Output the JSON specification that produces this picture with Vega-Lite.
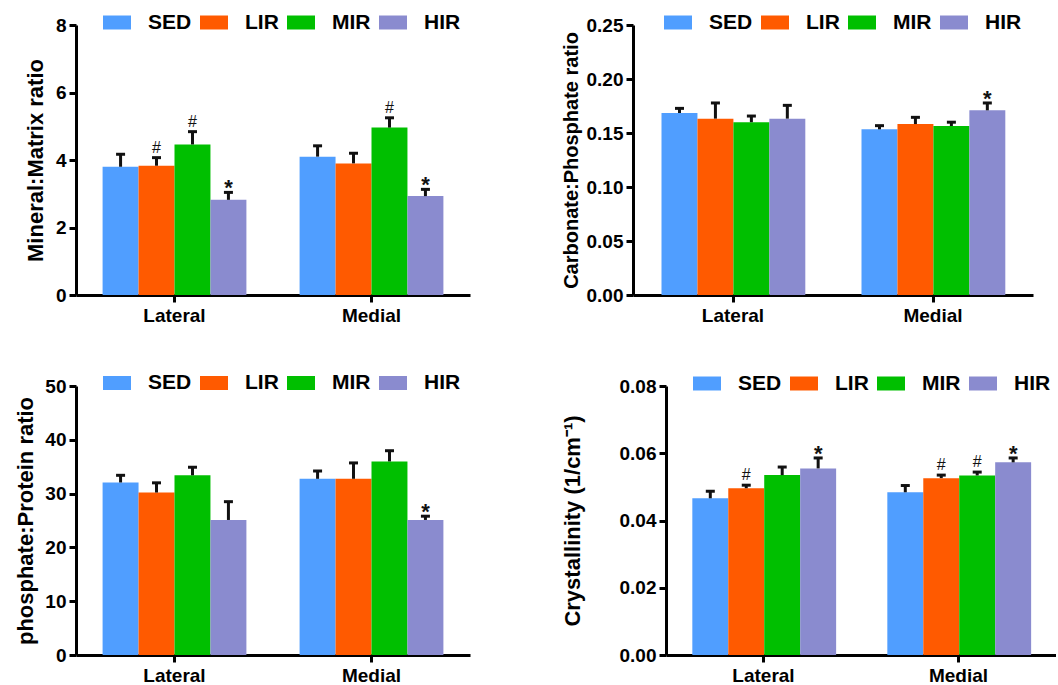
{
  "$schema": "https://vega.github.io/schema/vega-lite/v6.json",
  "padding": {"left": 14, "top": 8, "right": 0, "bottom": 0},
  "background": "#ffffff",
  "datasets": {
    "d": [
      {"panel": "MM", "site": "Lateral", "group": "SED", "mean": 3.80, "upper": 4.17, "sig": ""},
      {"panel": "MM", "site": "Lateral", "group": "LIR", "mean": 3.83, "upper": 4.07, "sig": "#"},
      {"panel": "MM", "site": "Lateral", "group": "MIR", "mean": 4.46, "upper": 4.84, "sig": "#"},
      {"panel": "MM", "site": "Lateral", "group": "HIR", "mean": 2.82, "upper": 3.04, "sig": "*"},
      {"panel": "MM", "site": "Medial", "group": "SED", "mean": 4.10, "upper": 4.42, "sig": ""},
      {"panel": "MM", "site": "Medial", "group": "LIR", "mean": 3.90, "upper": 4.20, "sig": ""},
      {"panel": "MM", "site": "Medial", "group": "MIR", "mean": 4.96, "upper": 5.25, "sig": "#"},
      {"panel": "MM", "site": "Medial", "group": "HIR", "mean": 2.93, "upper": 3.13, "sig": "*"},
      {"panel": "CP", "site": "Lateral", "group": "SED", "mean": 0.1685, "upper": 0.1728, "sig": ""},
      {"panel": "CP", "site": "Lateral", "group": "LIR", "mean": 0.1633, "upper": 0.1778, "sig": ""},
      {"panel": "CP", "site": "Lateral", "group": "MIR", "mean": 0.1600, "upper": 0.1657, "sig": ""},
      {"panel": "CP", "site": "Lateral", "group": "HIR", "mean": 0.1633, "upper": 0.1756, "sig": ""},
      {"panel": "CP", "site": "Medial", "group": "SED", "mean": 0.1534, "upper": 0.1568, "sig": ""},
      {"panel": "CP", "site": "Medial", "group": "LIR", "mean": 0.1583, "upper": 0.1645, "sig": ""},
      {"panel": "CP", "site": "Medial", "group": "MIR", "mean": 0.1565, "upper": 0.1600, "sig": ""},
      {"panel": "CP", "site": "Medial", "group": "HIR", "mean": 0.1710, "upper": 0.1778, "sig": "*"},
      {"panel": "PP", "site": "Lateral", "group": "SED", "mean": 32.07, "upper": 33.4, "sig": ""},
      {"panel": "PP", "site": "Lateral", "group": "LIR", "mean": 30.2, "upper": 32.0, "sig": ""},
      {"panel": "PP", "site": "Lateral", "group": "MIR", "mean": 33.4, "upper": 34.9, "sig": ""},
      {"panel": "PP", "site": "Lateral", "group": "HIR", "mean": 25.1, "upper": 28.5, "sig": ""},
      {"panel": "PP", "site": "Medial", "group": "SED", "mean": 32.75, "upper": 34.2, "sig": ""},
      {"panel": "PP", "site": "Medial", "group": "LIR", "mean": 32.75, "upper": 35.7, "sig": ""},
      {"panel": "PP", "site": "Medial", "group": "MIR", "mean": 35.98, "upper": 37.97, "sig": ""},
      {"panel": "PP", "site": "Medial", "group": "HIR", "mean": 25.1, "upper": 25.8, "sig": "*"},
      {"panel": "CR", "site": "Lateral", "group": "SED", "mean": 0.0466, "upper": 0.0487, "sig": ""},
      {"panel": "CR", "site": "Lateral", "group": "LIR", "mean": 0.0496, "upper": 0.0505, "sig": "#"},
      {"panel": "CR", "site": "Lateral", "group": "MIR", "mean": 0.0535, "upper": 0.0559, "sig": ""},
      {"panel": "CR", "site": "Lateral", "group": "HIR", "mean": 0.0555, "upper": 0.0586, "sig": "*"},
      {"panel": "CR", "site": "Medial", "group": "SED", "mean": 0.0484, "upper": 0.0504, "sig": ""},
      {"panel": "CR", "site": "Medial", "group": "LIR", "mean": 0.0526, "upper": 0.0535, "sig": "#"},
      {"panel": "CR", "site": "Medial", "group": "MIR", "mean": 0.0534, "upper": 0.0544, "sig": "#"},
      {"panel": "CR", "site": "Medial", "group": "HIR", "mean": 0.0573, "upper": 0.0586, "sig": "*"}
    ]
  },
  "data": {"name": "d"},
  "resolve": {"scale": {"color": "independent"}, "legend": {"color": "independent"}},
  "spacing": 44,
  "vconcat": [
    {
      "spacing": 91,
      "resolve": {"scale": {"color": "independent"}, "legend": {"color": "independent"}},
      "hconcat": [
        {
          "width": 394, "height": 270,
          "transform": [{"filter": "datum.panel === 'MM'"}],
          "encoding": {
            "x": {"field": "site", "type": "nominal", "sort": ["Lateral", "Medial"], "scale": {"paddingInner": 0.27, "paddingOuter": 0.135}, "axis": {"title": null, "labelAngle": 0}},
            "xOffset": {"field": "group", "type": "nominal", "sort": ["SED", "LIR", "MIR", "HIR"], "scale": {"paddingInner": 0, "paddingOuter": 0}},
            "y": {"field": "mean", "type": "quantitative", "title": "Mineral:Matrix ratio", "scale": {"domain": [0, 8], "nice": false}, "axis": {"values": [0, 2, 4, 6, 8], "titlePadding": 8, "titleFontSize": 22}}
          },
          "layer": [
            {"mark": {"type": "bar"}, "encoding": {"color": {"field": "group", "type": "nominal", "sort": ["SED", "LIR", "MIR", "HIR"], "scale": {"domain": ["SED", "LIR", "MIR", "HIR"], "range": ["#509EFF", "#FF5A00", "#00BF00", "#8A8BCF"]}, "legend": {"legendX": 27, "legendY": -16.5}}}},
            {"mark": {"type": "rule", "strokeWidth": 3, "color": "#111111"}, "encoding": {"y": {"field": "mean", "type": "quantitative", "title": "Mineral:Matrix ratio"}, "y2": {"field": "upper"}}},
            {"mark": {"type": "tick", "thickness": 3, "size": 9, "color": "#111111", "opacity": 1}, "encoding": {"y": {"field": "upper", "type": "quantitative", "title": "Mineral:Matrix ratio"}}},
            {"transform": [{"filter": "datum.sig === '#'"}], "mark": {"type": "text", "font": "Liberation Sans", "fontSize": 16, "baseline": "alphabetic", "dy": -5, "color": "#111111"}, "encoding": {"y": {"field": "upper", "type": "quantitative", "title": "Mineral:Matrix ratio"}, "text": {"field": "sig"}}},
            {"transform": [{"filter": "datum.sig === '*'"}], "mark": {"type": "text", "font": "Liberation Sans", "fontSize": 22, "fontWeight": "bold", "baseline": "alphabetic", "dy": 3, "color": "#111111"}, "encoding": {"y": {"field": "upper", "type": "quantitative", "title": "Mineral:Matrix ratio"}, "text": {"field": "sig"}}}
          ]
        },
        {
          "width": 400, "height": 270,
          "transform": [{"filter": "datum.panel === 'CP'"}],
          "encoding": {
            "x": {"field": "site", "type": "nominal", "sort": ["Lateral", "Medial"], "scale": {"paddingInner": 0.285, "paddingOuter": 0.1425}, "axis": {"title": null, "labelAngle": 0}},
            "xOffset": {"field": "group", "type": "nominal", "sort": ["SED", "LIR", "MIR", "HIR"], "scale": {"paddingInner": 0, "paddingOuter": 0}},
            "y": {"field": "mean", "type": "quantitative", "title": "Carbonate:Phosphate ratio", "scale": {"domain": [0, 0.25], "nice": false}, "axis": {"values": [0, 0.05, 0.1, 0.15, 0.2, 0.25], "format": ".2f", "titlePadding": 5}}
          },
          "layer": [
            {"mark": {"type": "bar"}, "encoding": {"color": {"field": "group", "type": "nominal", "sort": ["SED", "LIR", "MIR", "HIR"], "scale": {"domain": ["SED", "LIR", "MIR", "HIR"], "range": ["#509EFF", "#FF5A00", "#00BF00", "#8A8BCF"]}, "legend": {"legendX": 31, "legendY": -16.5}}}},
            {"mark": {"type": "rule", "strokeWidth": 3, "color": "#111111"}, "encoding": {"y": {"field": "mean", "type": "quantitative", "title": "Carbonate:Phosphate ratio"}, "y2": {"field": "upper"}}},
            {"mark": {"type": "tick", "thickness": 3, "size": 9, "color": "#111111", "opacity": 1}, "encoding": {"y": {"field": "upper", "type": "quantitative", "title": "Carbonate:Phosphate ratio"}}},
            {"transform": [{"filter": "datum.sig === '*'"}], "mark": {"type": "text", "font": "Liberation Sans", "fontSize": 22, "fontWeight": "bold", "baseline": "alphabetic", "dy": 3, "color": "#111111"}, "encoding": {"y": {"field": "upper", "type": "quantitative", "title": "Carbonate:Phosphate ratio"}, "text": {"field": "sig"}}}
          ]
        }
      ]
    },
    {
      "spacing": 91,
      "resolve": {"scale": {"color": "independent"}, "legend": {"color": "independent"}},
      "hconcat": [
        {
          "width": 394, "height": 269,
          "transform": [{"filter": "datum.panel === 'PP'"}],
          "encoding": {
            "x": {"field": "site", "type": "nominal", "sort": ["Lateral", "Medial"], "scale": {"paddingInner": 0.27, "paddingOuter": 0.135}, "axis": {"title": null, "labelAngle": 0}},
            "xOffset": {"field": "group", "type": "nominal", "sort": ["SED", "LIR", "MIR", "HIR"], "scale": {"paddingInner": 0, "paddingOuter": 0}},
            "y": {"field": "mean", "type": "quantitative", "title": "phosphate:Protein ratio", "scale": {"domain": [0, 50], "nice": false}, "axis": {"values": [0, 10, 20, 30, 40, 50], "titlePadding": 7.5, "titleFontSize": 22}}
          },
          "layer": [
            {"mark": {"type": "bar"}, "encoding": {"color": {"field": "group", "type": "nominal", "sort": ["SED", "LIR", "MIR", "HIR"], "scale": {"domain": ["SED", "LIR", "MIR", "HIR"], "range": ["#509EFF", "#FF5A00", "#00BF00", "#8A8BCF"]}, "legend": {"legendX": 27, "legendY": -17}}}},
            {"mark": {"type": "rule", "strokeWidth": 3, "color": "#111111"}, "encoding": {"y": {"field": "mean", "type": "quantitative", "title": "phosphate:Protein ratio"}, "y2": {"field": "upper"}}},
            {"mark": {"type": "tick", "thickness": 3, "size": 9, "color": "#111111", "opacity": 1}, "encoding": {"y": {"field": "upper", "type": "quantitative", "title": "phosphate:Protein ratio"}}},
            {"transform": [{"filter": "datum.sig === '*'"}], "mark": {"type": "text", "font": "Liberation Sans", "fontSize": 22, "fontWeight": "bold", "baseline": "alphabetic", "dy": 3, "color": "#111111"}, "encoding": {"y": {"field": "upper", "type": "quantitative", "title": "phosphate:Protein ratio"}, "text": {"field": "sig"}}}
          ]
        },
        {
          "width": 390, "height": 269,
          "transform": [{"filter": "datum.panel === 'CR'"}],
          "encoding": {
            "x": {"field": "site", "type": "nominal", "sort": ["Lateral", "Medial"], "scale": {"paddingInner": 0.27, "paddingOuter": 0.135}, "axis": {"title": null, "labelAngle": 0}},
            "xOffset": {"field": "group", "type": "nominal", "sort": ["SED", "LIR", "MIR", "HIR"], "scale": {"paddingInner": 0, "paddingOuter": 0}},
            "y": {"field": "mean", "type": "quantitative", "title": "Crystallinity (1/cm⁻¹)", "scale": {"domain": [0, 0.08], "nice": false}, "axis": {"values": [0, 0.02, 0.04, 0.06, 0.08], "format": ".2f", "titlePadding": 35, "titleFontSize": 22}}
          },
          "layer": [
            {"mark": {"type": "bar"}, "encoding": {"color": {"field": "group", "type": "nominal", "sort": ["SED", "LIR", "MIR", "HIR"], "scale": {"domain": ["SED", "LIR", "MIR", "HIR"], "range": ["#509EFF", "#FF5A00", "#00BF00", "#8A8BCF"]}, "legend": {"legendX": 27, "legendY": -16.5}}}},
            {"mark": {"type": "rule", "strokeWidth": 3, "color": "#111111"}, "encoding": {"y": {"field": "mean", "type": "quantitative", "title": "Crystallinity (1/cm⁻¹)"}, "y2": {"field": "upper"}}},
            {"mark": {"type": "tick", "thickness": 3, "size": 9, "color": "#111111", "opacity": 1}, "encoding": {"y": {"field": "upper", "type": "quantitative", "title": "Crystallinity (1/cm⁻¹)"}}},
            {"transform": [{"filter": "datum.sig === '#'"}], "mark": {"type": "text", "font": "Liberation Sans", "fontSize": 16, "baseline": "alphabetic", "dy": -5, "color": "#111111"}, "encoding": {"y": {"field": "upper", "type": "quantitative", "title": "Crystallinity (1/cm⁻¹)"}, "text": {"field": "sig"}}},
            {"transform": [{"filter": "datum.sig === '*'"}], "mark": {"type": "text", "font": "Liberation Sans", "fontSize": 22, "fontWeight": "bold", "baseline": "alphabetic", "dy": 3, "color": "#111111"}, "encoding": {"y": {"field": "upper", "type": "quantitative", "title": "Crystallinity (1/cm⁻¹)"}, "text": {"field": "sig"}}}
          ]
        }
      ]
    }
  ],
  "config": {
    "view": {"stroke": null},
    "font": "Liberation Sans",
    "axis": {"domainColor": "#000000", "domainWidth": 3, "tickColor": "#000000", "tickWidth": 3, "tickSize": 7, "labelFont": "Liberation Sans", "labelFontSize": 19, "labelFontWeight": "bold", "labelColor": "#000000", "labelPadding": 3, "titleFont": "Liberation Sans", "titleFontSize": 20, "titleFontWeight": "bold", "titleColor": "#000000", "grid": false},
    "axisX": {"labelPadding": 4},
    "legend": {"orient": "none", "direction": "horizontal", "title": null, "symbolType": "M-1,-0.5H1V0.5H-1Z", "symbolSize": 784, "symbolStrokeWidth": 0, "symbolOpacity": 1, "labelFont": "Liberation Sans", "labelFontSize": 21, "labelFontWeight": "bold", "labelColor": "#000000", "labelOffset": 17, "columnPadding": 8, "padding": 0}
  }
}
